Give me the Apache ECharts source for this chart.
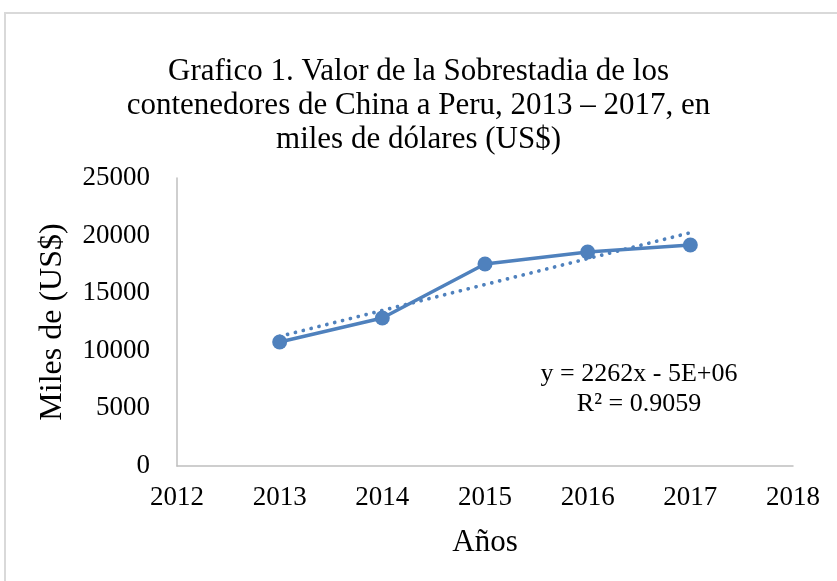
<!DOCTYPE html>
<html>
<head>
<meta charset="utf-8">
<script src="https://cdn.jsdelivr.net/npm/echarts@6/dist/echarts.min.js"></script>
<style>
html,body{margin:0;padding:0;background:#fff;}
#chart{width:837px;height:581px;}
</style>
</head>
<body>
<div id="chart"></div>
<script>
var years = [2013, 2014, 2015, 2016, 2017];
var values = [10760, 12850, 17530, 18580, 19180];
var trendYears = [2013, 2017];
var trendValues = [11250, 20250];
var yTicks = [0, 5000, 10000, 15000, 20000, 25000];
var xTicks = [2012, 2013, 2014, 2015, 2016, 2017, 2018];
var titleText = 'Grafico 1. Valor de la Sobrestadia de los\ncontenedores de China a Peru, 2013 – 2017, en\nmiles de dólares (US$)';
var eqText = 'y = 2262x - 5E+06\nR² = 0.9059';

var FONT = '"Liberation Serif","Times New Roman",serif';
var BLUE = '#4F81BD';
var chart = echarts.init(document.getElementById('chart'), null, {renderer: 'canvas'});
chart.setOption({
  backgroundColor: '#fff',
  animation: false,
  title: {
    text: titleText,
    left: 'center',
    top: 50,
    textStyle: {fontFamily: FONT, fontSize: 31, fontWeight: 'normal', color: '#000', lineHeight: 34}
  },
  grid: {left: 177, right: 44, top: 178, bottom: 115, containLabel: false},
  xAxis: {
    type: 'value',
    min: xTicks[0], max: xTicks[xTicks.length - 1], interval: 1,
    name: 'Años', nameLocation: 'middle', nameGap: 61,
    nameTextStyle: {fontFamily: FONT, fontSize: 31, color: '#000'},
    axisLine: {lineStyle: {color: '#bfbfbf', width: 1.5}},
    axisTick: {show: false},
    splitLine: {show: false},
    axisLabel: {fontFamily: FONT, fontSize: 27, color: '#000', margin: 18,
      formatter: function (v) { return String(v); }}
  },
  yAxis: {
    type: 'value',
    min: yTicks[0], max: yTicks[yTicks.length - 1], interval: 5000,
    name: 'Miles de (US$)', nameLocation: 'middle', nameGap: 108,
    nameTextStyle: {fontFamily: FONT, fontSize: 32, color: '#000'},
    axisLine: {show: true, lineStyle: {color: '#bfbfbf', width: 1.5}},
    axisTick: {show: false},
    splitLine: {show: false},
    axisLabel: {fontFamily: FONT, fontSize: 27, color: '#000', margin: 27,
      formatter: function (v) { return String(v); }}
  },
  series: [
    {
      type: 'line',
      data: trendYears.map(function (y, i) { return [y, trendValues[i]]; }),
      symbol: 'none',
      lineStyle: {color: BLUE, width: 3.7, type: [0.1, 8], cap: 'round'},
      z: 1
    },
    {
      type: 'line',
      data: years.map(function (y, i) { return [y, values[i]]; }),
      symbol: 'circle', symbolSize: 15,
      itemStyle: {color: BLUE},
      lineStyle: {color: BLUE, width: 3.5},
      z: 2
    }
  ],
  graphic: [
    {
      type: 'rect', silent: true,
      shape: {x: 5, y: 13, width: 900, height: 700},
      style: {fill: 'none', stroke: '#d9d9d9', lineWidth: 2}
    },
    {
      type: 'text', left: 539, top: 359,
      style: {text: eqText, font: '26px ' + FONT, fill: '#000', textAlign: 'center', lineHeight: 30, width: 200}
    }
  ]
});
</script>
</body>
</html>
